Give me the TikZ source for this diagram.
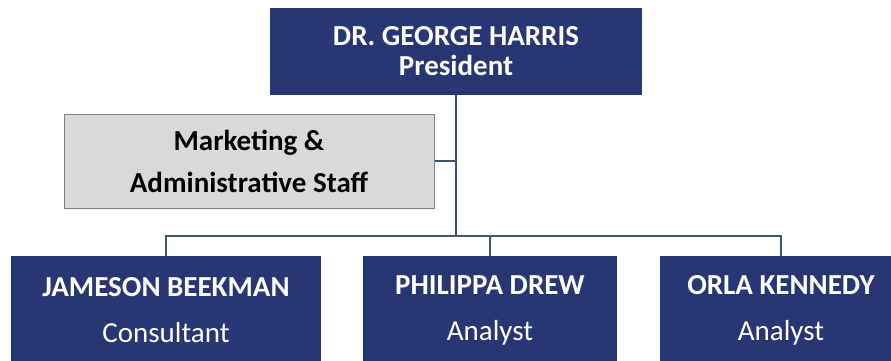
\documentclass[tikz,border=0pt]{standalone}
\usepackage{fontspec}
\setmainfont{Carlito}
\usepackage{xcolor}
\usepackage{tikz}
\definecolor{navy}{HTML}{283673}
\definecolor{staffgray}{HTML}{D9D9D9}
\definecolor{edgegray}{HTML}{7F7F7F}
\definecolor{linkline}{HTML}{44546A}

\begin{document}
\begin{tikzpicture}[x=1pt,y=-1pt,
  chief/.style={fill=navy,text=white,inner sep=0pt,align=center,minimum width=372pt,minimum height=87pt,font=\bfseries\fontsize{29}{30}\selectfont},
  staffbox/.style={fill=staffgray,draw=edgegray,line width=1pt,inner sep=0pt,align=center,minimum width=370pt,minimum height=94pt,font=\bfseries\fontsize{29}{42}\selectfont},
  member/.style={fill=navy,text=white,inner sep=0pt,align=center,minimum height=108pt,font=\fontsize{29}{46}\selectfont},
  link/.style={draw=linkline,line width=1.2pt}]
\clip(0,0)rectangle(891,360);
\fill[white](0,0)rectangle(891,360);
% boxes
\node[chief](pres)at(456,51.5){DR. GEORGE HARRIS\\President};
\node[staffbox](staff)at(249,161){Marketing \&\\Administrative Staff};
\node[member,minimum width=310pt](jb)at(166,310){\textbf{JAMESON BEEKMAN}\\Consultant};
\node[member,minimum width=254pt](pd)at(490,310){\textbf{PHILIPPA DREW}\\Analyst};
\node[member,minimum width=242pt](ok)at(781,310){\textbf{ORLA KENNEDY}\\Analyst};
% connectors
\coordinate(hub)at(456,236);
\draw[link](pres.south)--(hub);
\draw[link](staff.east)--(staff.east-|hub);
\draw[link](jb.north)|-(hub)-|(ok.north);
\draw[link](pd.north)--(pd.north|-hub);
\end{tikzpicture}
\end{document}
